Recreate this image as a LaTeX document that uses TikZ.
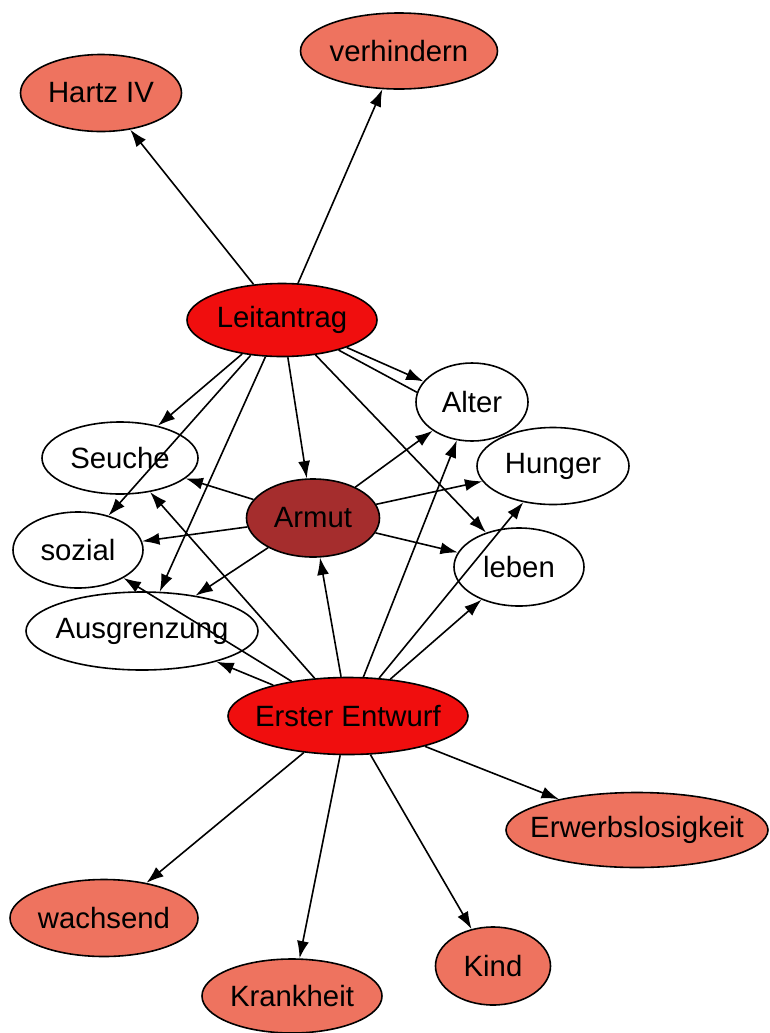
\documentclass[tikz,border=0pt]{standalone}
\usepackage{fontspec}
\setmainfont{Liberation Sans}
\usetikzlibrary{shapes.geometric,arrows.meta}
\tikzset{every picture/.style={line width=1.2pt}}
\newcommand{\lb}[1]{\makebox[0pt]{#1}}
\tikzset{
  term/.style={draw,ellipse,inner sep=0pt,font=\fontsize{22}{26}\selectfont},
  hot/.style={term,fill={rgb, 255:red, 240; green, 14; blue, 14 }},
  core/.style={term,fill={rgb, 255:red, 165; green, 45; blue, 45 }},
  leaf/.style={term,fill={rgb, 255:red, 238; green, 115; blue, 95 }},
  word/.style={term,fill=white},
  sz/.style 2 args={minimum width=#1*0.75pt,minimum height=#2*0.75pt},
  link/.style={-{Latex[length=13pt,width=9pt]}}
}

\begin{document}
\begin{tikzpicture}[x=0.75pt,y=0.75pt,yscale=-1,xscale=1]
\useasboundingbox (0,0) rectangle (769,1033);

% top row
\node[leaf,sz={161}{77}] (hartz) at (101,93) {\lb{Hartz IV}};
\node[leaf,sz={197}{76}] (verh) at (399,51) {\lb{verhindern}};
\node[hot,sz={190}{73}] (leit) at (282,320) {\lb{Leitantrag}};

% middle cluster
\node[word,sz={112}{78}] (alter) at (472,402) {\lb{Alter}};
\node[word,sz={156}{72}] (seuche) at (120,458) {\lb{Seuche}};
\node[word,sz={152}{77}] (hunger) at (553,466) {\lb{Hunger}};
\node[core,sz={133}{78}] (armut) at (313,518) {\lb{Armut}};
\node[word,sz={130}{76}] (sozial) at (78,550) {\lb{sozial}};
\node[word,sz={130}{78}] (leben) at (519,567) {\lb{leben}};
\node[word,sz={232}{78}] (ausgr) at (142,631) {\lb{Ausgrenzung}};
\node[hot,sz={240}{77}] (erster) at (348,716) {\lb{Erster Entwurf}};

% bottom row
\node[leaf,sz={262}{75}] (erwerb) at (637,830) {\lb{Erwerbslosigkeit}};
\node[leaf,sz={188}{77}] (wachs) at (104,918) {\lb{wachsend}};
\node[leaf,sz={115}{78}] (kind) at (493,966) {\lb{Kind}};
\node[leaf,sz={180}{74}] (krank) at (292,996) {\lb{Krankheit}};

% edges from Leitantrag
\draw[link] (leit) -- (hartz);
\draw[link] (leit) -- (verh);
\draw[link] (leit.-23) -- (alter.157);
\draw (leit.-28) -- (alter.170);
\draw[link] (leit) -- (seuche);
\draw[link] (leit) -- (sozial);
\draw[link] (leit) -- (ausgr);
\draw[link] (leit) -- (armut);
\draw[link] (leit) -- (leben);

% edges from Armut
\draw[link] (armut) -- (seuche);
\draw[link] (armut) -- (sozial);
\draw[link] (armut) -- (ausgr);
\draw[link] (armut) -- (alter);
\draw[link] (armut) -- (hunger);
\draw[link] (armut) -- (leben);

% edges from Erster Entwurf
\draw[link] (erster) -- (armut);
\draw[link] (erster) -- (seuche);
\draw[link] (erster) -- (sozial);
\draw[link] (erster) -- (ausgr);
\draw[link] (erster) -- (alter);
\draw[link] (erster) -- (hunger);
\draw[link] (erster) -- (leben);
\draw[link] (erster) -- (erwerb);
\draw[link] (erster) -- (wachs);
\draw[link] (erster) -- (krank);
\draw[link] (erster) -- (kind);
\end{tikzpicture}
\end{document}
